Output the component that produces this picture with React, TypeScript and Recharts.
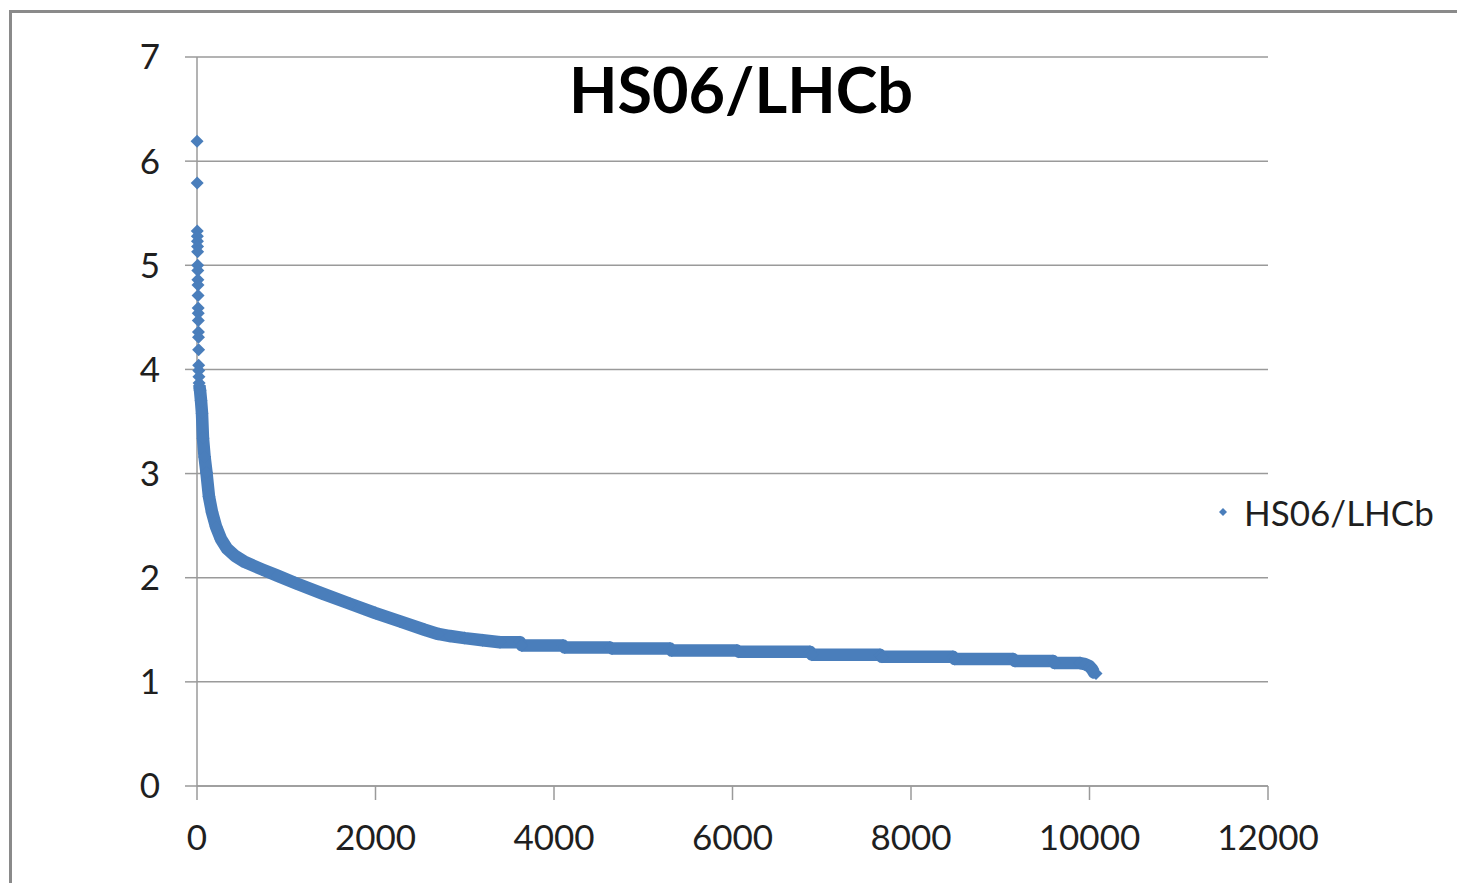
import { ScatterChart, Scatter, XAxis, YAxis, CartesianGrid, Legend } from 'recharts'

const BLUE = '#4A7EBB'
const GRID = '#9a9a9a'
const INK = '#1f1f1f'
const FONT = 'Lato, "Open Sans", sans-serif'

const xTicks = [0, 2000, 4000, 6000, 8000, 10000, 12000]
const yTicks = [0, 1, 2, 3, 4, 5, 6, 7]

// top outliers (rank -> HS06/LHCb)
const headRank = [1, 2, 3, 4, 5, 6, 7, 8, 9, 10, 11, 12, 13, 14, 15, 16, 17, 18, 19, 20, 22, 24]
const headValue = [
  6.19, 5.79, 5.33, 5.28, 5.23, 5.18, 5.13, 5.0, 4.95, 4.86, 4.81,
  4.71, 4.59, 4.54, 4.47, 4.36, 4.31, 4.19, 4.04, 3.99, 3.93, 3.87,
]

// the dense band, read at its centre line
const tailRank = [
  26, 34, 45, 56, 67, 85, 106, 134, 168, 213, 269, 336, 426, 538, 728, 900,
  1100, 1400, 1714, 2000, 2275, 2550, 2700, 2835, 3000, 3200, 3395, 3619, 3640,
  4101, 4120, 4627, 4650, 5300, 5320, 6050, 6070, 6868, 6890, 7653, 7675, 8470,
  8490, 9143, 9165, 9591, 9610, 9894, 9950, 10000, 10030, 10050, 10073,
]
const tailValue = [
  3.84, 3.8, 3.7, 3.58, 3.34, 3.16, 3.01, 2.78, 2.63, 2.49, 2.37, 2.28, 2.21, 2.15, 2.08, 2.02,
  1.95, 1.85, 1.75, 1.66, 1.58, 1.5, 1.46, 1.44, 1.42, 1.4, 1.38, 1.38, 1.35,
  1.35, 1.33, 1.33, 1.32, 1.32, 1.3, 1.3, 1.29, 1.29, 1.26, 1.26, 1.24, 1.24,
  1.22, 1.22, 1.2, 1.2, 1.18, 1.18, 1.17, 1.15, 1.12, 1.09, 1.08,
]

const head = headRank.map((x, i) => ({ x, y: headValue[i] }))
const tail = tailRank.map((x, i) => ({ x, y: tailValue[i] }))

function Diamond(props: any) {
  const { cx, cy } = props
  if (cx == null || cy == null) return null
  const r = 6.5
  return (
    <polygon
      points={`${cx},${cy - r} ${cx + r},${cy} ${cx},${cy + r} ${cx - r},${cy}`}
      fill={BLUE}
    />
  )
}

function LegendBox() {
  return (
    <div style={{ display: 'flex', alignItems: 'center', fontFamily: FONT, fontSize: 35, color: INK, lineHeight: '42px' }}>
      <svg width={8} height={8} style={{ marginRight: 17 }}>
        <polygon points="4,0 8,4 4,8 0,4" fill={BLUE} />
      </svg>
      HS06/LHCb
    </div>
  )
}

export default function App() {
  const tick = { fontSize: 35, fill: INK, fontFamily: FONT }
  return (
    <div style={{ position: 'absolute', left: 0, top: 0, width: 1457, height: 883, background: '#fff', overflow: 'hidden' }}>
      <div
        style={{
          position: 'absolute', left: 9, top: 10, width: 1500, height: 900,
          borderTop: '3px solid #8a8a8a', borderLeft: '3px solid #8a8a8a',
        }}
      />
      <div style={{ position: 'absolute', left: 0, top: 0 }}>
        <ScatterChart width={1457} height={883} margin={{ top: 57, right: 189, bottom: 37, left: 137 }}>
          <CartesianGrid horizontal vertical={false} stroke={GRID} strokeWidth={1.5} />
          <XAxis
            type="number"
            dataKey="x"
            domain={[0, 12000]}
            ticks={xTicks}
            height={60}
            tickSize={14}
            tickMargin={25}
            axisLine={{ stroke: GRID, strokeWidth: 1.5 }}
            tickLine={{ stroke: GRID, strokeWidth: 1.5 }}
            tick={tick}
          />
          <YAxis
            type="number"
            dataKey="y"
            domain={[0, 7]}
            ticks={yTicks}
            width={60}
            tickSize={12}
            tickMargin={25}
            axisLine={{ stroke: GRID, strokeWidth: 1.5 }}
            tickLine={{ stroke: GRID, strokeWidth: 1.5 }}
            tick={tick}
          />
          <Legend
            layout="horizontal"
            align="center"
            verticalAlign="middle"
            content={LegendBox}
            wrapperStyle={{ left: 1219, top: 491, width: 238 }}
          />
          <Scatter
            name="HS06/LHCb"
            data={tail}
            fill={BLUE}
            line={{ stroke: BLUE, strokeWidth: 12.5, strokeLinejoin: 'round' }}
            shape={Diamond}
            isAnimationActive={false}
          />
          <Scatter
            name="HS06/LHCb top"
            data={head}
            fill={BLUE}
            shape={Diamond}
            legendType="none"
            isAnimationActive={false}
          />
        </ScatterChart>
      </div>
      <svg width={1457} height={140} style={{ position: 'absolute', left: 0, top: 0, pointerEvents: 'none' }}>
        <text x={741} y={113} textAnchor="middle" fontFamily={FONT} fontWeight={700} fontSize={63} fill="#000">
          HS06/LHCb
        </text>
      </svg>
    </div>
  )
}
